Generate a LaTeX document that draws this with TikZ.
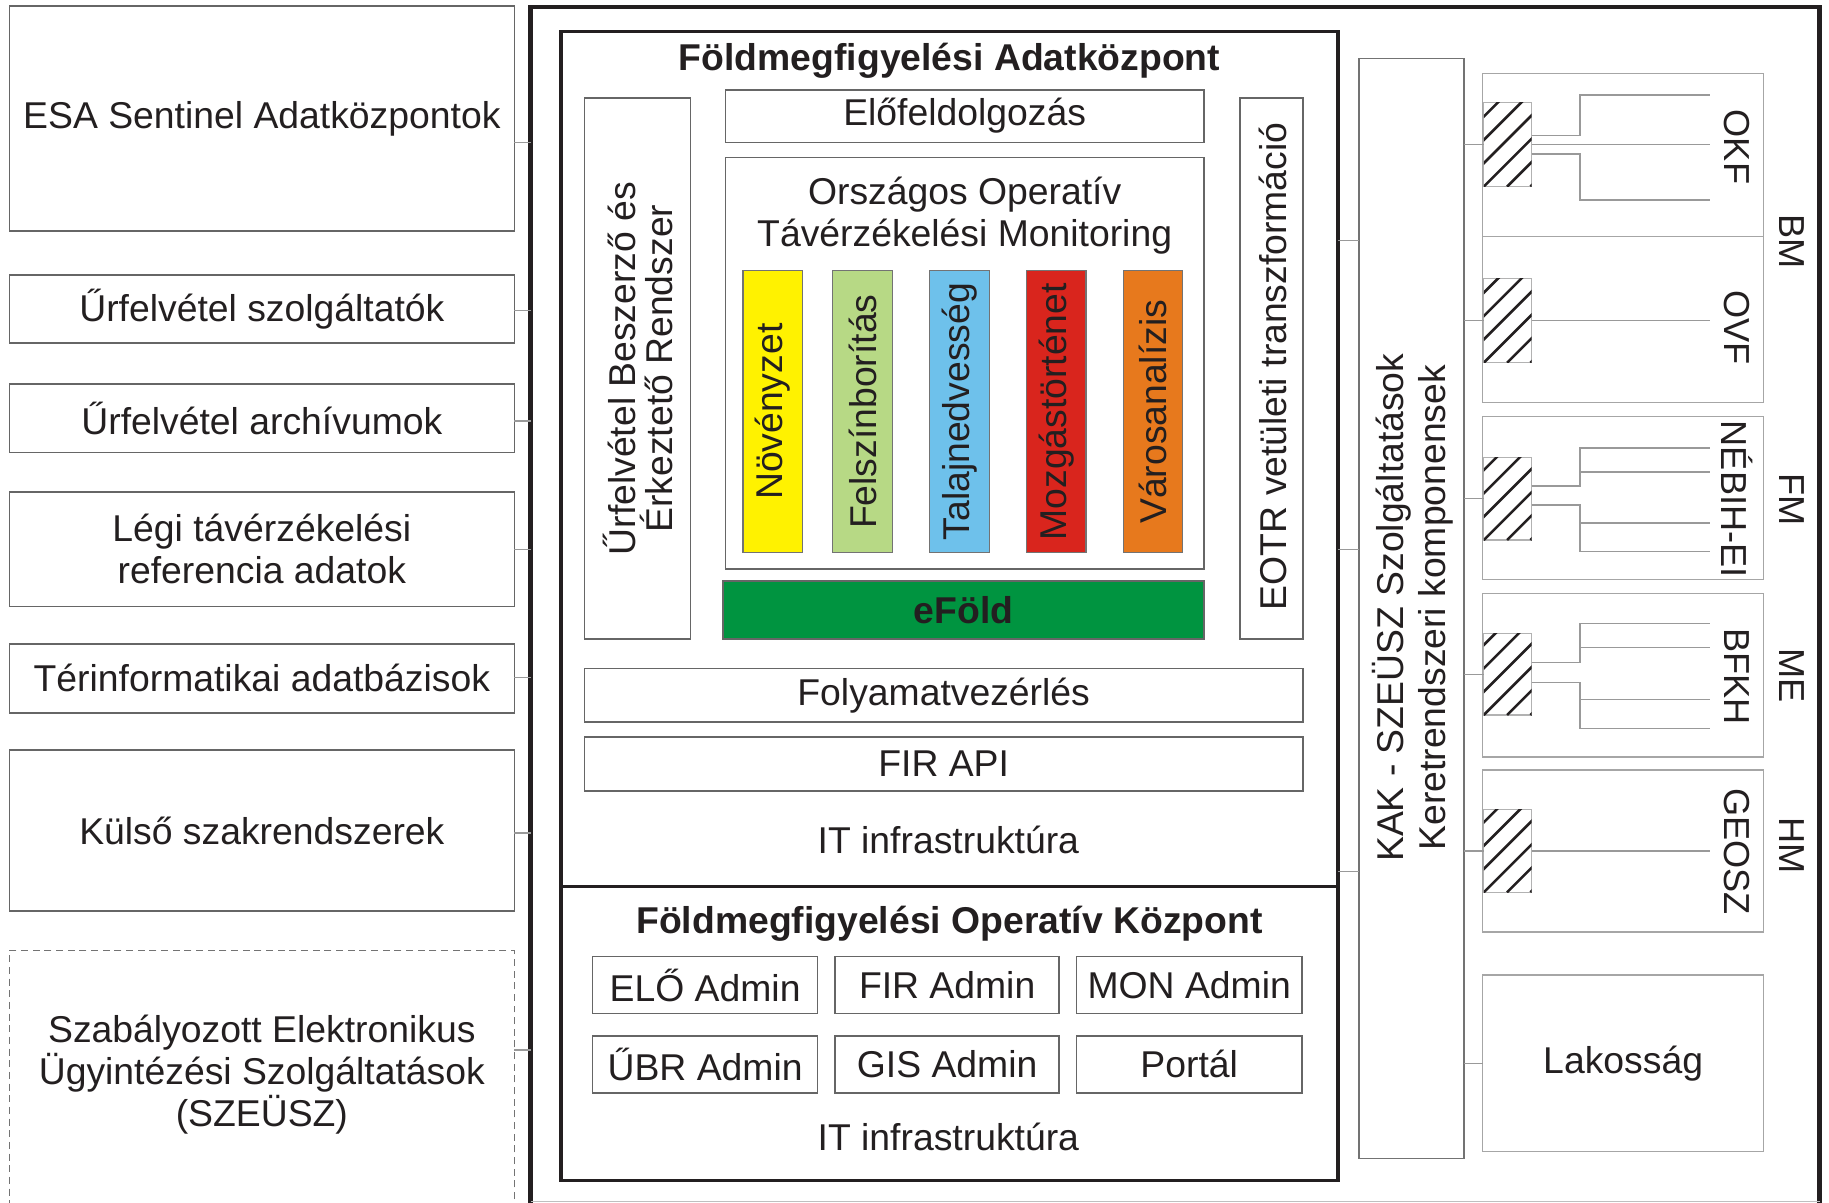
\documentclass[tikz,border=0pt]{standalone}
\usepackage{fontspec}
\setmainfont{Liberation Sans}
\definecolor{cyel}{RGB}{255,242,0}
\definecolor{cgrn}{RGB}{183,217,133}
\definecolor{cblu}{RGB}{110,193,235}
\definecolor{cred}{RGB}{217,37,29}
\definecolor{corg}{RGB}{231,121,29}
\definecolor{cefold}{RGB}{0,148,64}
\definecolor{ink}{RGB}{35,31,32}
\newcommand\hatchit[1]{%
  \begin{scope}
    \clip (#1.south west) rectangle (#1.north east);
    \foreach \k in {-80,-60,...,40} {
      \draw[ink, line width=2.2pt] ([xshift=\k pt]#1.south west) -- ++(90,-90);
    }
  \end{scope}}
\begin{document}
\begin{tikzpicture}[x=1pt,y=-1pt,
  every node/.style={inner sep=0pt, outer sep=0pt},
  txt/.style={font=\fontsize{32}{36}\selectfont, align=center, text=ink},
  btxt/.style={font=\fontsize{32}{36}\selectfont\bfseries, align=center, text=ink},
  stxt/.style={font=\fontsize{31}{34}\selectfont, align=center, text=ink},
  lbox/.style={draw=black!60, line width=1.4pt, anchor=north west, txt},
  ibox/.style={draw=black!60, line width=1.3pt, anchor=north west, txt},
  rbox/.style={draw=black!35, line width=1.2pt, anchor=north west},
  thickframe/.style={draw=ink, line width=3pt, anchor=north west},
  colbar/.style={draw=black!55, line width=1pt, anchor=north west, minimum width=51pt, minimum height=242pt},
  hbox/.style={draw=black!30, line width=1pt, anchor=north west, minimum width=41pt},
  conn/.style={draw=black!40, line width=1.2pt},
]
\useasboundingbox (0,0) rectangle (1568,1031);
\fill[white] (0,0) rectangle (1568,1031);

% outer frame (bottom edge falls just below the picture)
\node[thickframe, line width=4pt, minimum width=1105pt, minimum height=1030pt] (outer) at (455,6) {};
\draw[black!25, line width=1pt] (outer.west |- 0,1030) -- (outer.east |- 0,1030);

% left column
\node[lbox, minimum width=433pt, minimum height=193pt] (esa) at (8,5) {ESA Sentinel Adatközpontok};
\node[lbox, minimum width=433pt, minimum height=58pt] (szolg) at (8,236) {Űrfelvétel szolgáltatók};
\node[lbox, minimum width=433pt, minimum height=59pt] (arch) at (8,329) {Űrfelvétel archívumok};
\node[lbox, minimum width=433pt, minimum height=98pt] (legi) at (8,422) {Légi távérzékelési\\referencia adatok};
\node[lbox, minimum width=433pt, minimum height=59pt] (terinf) at (8,552) {Térinformatikai adatbázisok};
\node[lbox, minimum width=433pt, minimum height=138pt] (kulso) at (8,643) {Külső szakrendszerek};
\node[lbox, draw=black!55, line width=1.2pt, dash pattern=on 6pt off 4pt, minimum width=433pt, minimum height=230pt] (szeusz) at (8,815) {};
\node[txt] at (224.5,921) {Szabályozott Elektronikus\\Ügyintézési Szolgáltatások\\(SZEÜSZ)};

\foreach \n/\yy in {esa/122, szolg/266, arch/361, legi/471, terinf/581, kulso/714, szeusz/900}
  \draw[conn] (\n.east |- 0,\yy) -- (outer.west |- 0,\yy);

% Adatközpont
\node[thickframe, minimum width=666pt, minimum height=733pt] (fak) at (481,27) {};
\node[btxt] at (814,52) {Földmegfigyelési Adatközpont};
\node[ibox, minimum width=91pt, minimum height=464pt] (ubr) at (501,84) {};
\node[txt, rotate=90, font=\fontsize{32}{32}\selectfont] at (547,316) {Űrfelvétel Beszerző és\\Érkeztető Rendszer};
\node[ibox, minimum width=410pt, minimum height=45pt] (elo) at (622,77) {Előfeldolgozás};
\node[ibox, minimum width=410pt, minimum height=353pt] (ootm) at (622,135) {};
\node[txt] at (827,185) {Országos Operatív\\Távérzékelési Monitoring};
\node[colbar, fill=cyel] (b1) at (637,232) {};
\node[txt, rotate=90] at (b1.center) {Növényzet};
\node[colbar, fill=cgrn] (b2) at (714,232) {};
\node[txt, rotate=90] at (b2.center) {Felszínborítás};
\node[colbar, fill=cblu] (b3) at (797,232) {};
\node[txt, rotate=90] at (b3.center) {Talajnedvesség};
\node[colbar, fill=cred] (b4) at (880,232) {};
\node[txt, rotate=90] at (b4.center) {Mozgástörténet};
\node[colbar, fill=corg] (b5) at (963,232) {};
\node[txt, rotate=90] at (b5.center) {Városanalízis};
\node[ibox, fill=cefold, minimum width=412pt, minimum height=50pt, btxt] (efold) at (620,498) {eFöld};
\node[ibox, minimum width=54pt, minimum height=464pt] (eotr) at (1063,84) {};
\node[txt, rotate=90] at (1091,314) {EOTR vetületi transzformáció};
\node[ibox, minimum width=616pt, minimum height=46pt] (folyam) at (501,573) {Folyamatvezérlés};
\node[ibox, minimum width=616pt, minimum height=46pt] (firapi) at (501,632) {FIR API};
\node[txt] (it1) at (813,720) {IT infrastruktúra};

% Operatív Központ
\node[thickframe, minimum width=666pt, minimum height=252pt] (fok) at (481,760) {};
\node[btxt] at (814,792) {Földmegfigyelési Operatív Központ};
\node[ibox, minimum width=193pt, minimum height=49pt] (a1) at (508,820) {ELŐ Admin};
\node[ibox, minimum width=192pt, minimum height=49pt] (a2) at (716,820) {FIR Admin};
\node[ibox, minimum width=193pt, minimum height=49pt] (a3) at (923,820) {MON Admin};
\node[ibox, minimum width=193pt, minimum height=49pt] (a4) at (508,888) {ŰBR Admin};
\node[ibox, minimum width=192pt, minimum height=49pt] (a5) at (716,888) {GIS Admin};
\node[ibox, minimum width=193pt, minimum height=49pt] (a6) at (923,888) {Portál};
\node[txt] (it2) at (813,975) {IT infrastruktúra};

% KAK
\node[ibox, draw=black!55, minimum width=90pt, minimum height=943pt] (kak) at (1165,50) {};
\node[txt, rotate=90] at (1211,521) {KAK - SZEÜSZ Szolgáltatások\\Keretrendszeri komponensek};
\foreach \yy in {206,471,747}
  \draw[conn] (fak.east |- 0,\yy) -- (kak.west |- 0,\yy);

% right side groups
\node[rbox, minimum width=241pt, minimum height=282pt] (bm) at (1271,63) {};
\draw[rbox] (bm.west |- 0,203) -- (bm.east |- 0,203);
\node[rbox, minimum width=241pt, minimum height=140pt] (fm) at (1271,357) {};
\node[rbox, minimum width=241pt, minimum height=140pt] (me) at (1271,509) {};
\node[rbox, minimum width=241pt, minimum height=139pt] (hm) at (1271,660) {};
\node[rbox, minimum width=241pt, minimum height=151pt, txt] (lak) at (1271,836) {Lakosság};

\node[hbox, minimum height=72pt] (okfh) at (1272,88) {};
\node[hbox, minimum height=72pt] (ovfh) at (1272,239) {};
\node[hbox, minimum height=71pt] (fmh) at (1272,392) {};
\node[hbox, minimum height=70pt] (meh) at (1272,543) {};
\node[hbox, minimum height=71pt] (hmh) at (1272,694) {};
\hatchit{okfh}\hatchit{ovfh}\hatchit{fmh}\hatchit{meh}\hatchit{hmh}

\foreach \h in {okfh,ovfh,fmh,meh,hmh,lak}
  \draw[conn] (kak.east |- \h.west) -- (\h.west);

\coordinate (ex) at (1466,0);
\coordinate (fx) at (1354.5,0);
% OKF
\draw[conn] (okfh.east |- 0,116) -| (fx |- 0,81.5) -- (ex |- 0,81.5);
\draw[conn] (okfh.east |- 0,124) -- (ex |- 0,124);
\draw[conn] (okfh.east |- 0,132) -| (fx |- 0,171.5) -- (ex |- 0,171.5);
% OVF
\draw[conn] (ovfh.east) -- (ex |- ovfh.east);
% NEBIH
\draw[conn] (fmh.east |- 0,416.5) -| (fx |- 0,384) -- (ex |- 0,384);
\draw[conn] (fx |- 0,404.5) -- (ex |- 0,404.5);
\draw[conn] (fmh.east |- 0,433) -| (fx |- 0,473) -- (ex |- 0,473);
\draw[conn] (fx |- 0,448.5) -- (ex |- 0,448.5);
% BFKH
\draw[conn] (meh.east |- 0,568) -| (fx |- 0,534.5) -- (ex |- 0,534.5);
\draw[conn] (fx |- 0,555) -- (ex |- 0,555);
\draw[conn] (meh.east |- 0,585) -| (fx |- 0,624.5) -- (ex |- 0,624.5);
\draw[conn] (fx |- 0,599.5) -- (ex |- 0,599.5);
% GEOSZ
\draw[conn] (hmh.east) -- (ex |- hmh.east);

% labels
\node[stxt, rotate=-90] at (1489,126) {OKF};
\node[stxt, rotate=-90] at (1489,281) {OVF};
\node[stxt, rotate=-90] at (1489,428) {NÉBIH-EI};
\node[stxt, rotate=-90] at (1489,580) {BFKH};
\node[stxt, rotate=-90] at (1489,730) {GEOSZ};
\node[stxt, rotate=-90] at (1536,207) {BM};
\node[stxt, rotate=-90] at (1536,428) {FM};
\node[stxt, rotate=-90] at (1536,579) {ME};
\node[stxt, rotate=-90] at (1536,725) {HM};
\end{tikzpicture}
\end{document}
